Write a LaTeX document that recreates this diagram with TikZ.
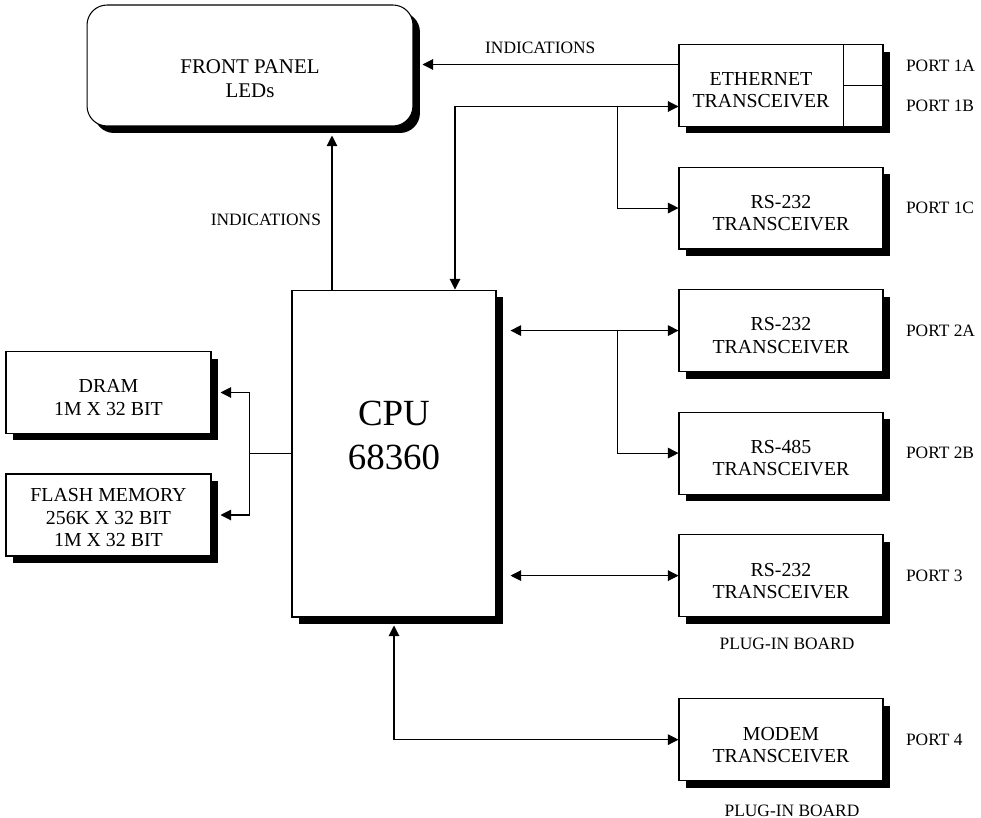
\documentclass[tikz,border=0pt]{standalone}
\usepackage{fontspec}
\setmainfont{Liberation Serif}
\usepackage{tikz}
\usetikzlibrary{arrows.meta, shadows, positioning, calc}
\newcommand{\unitfont}{\fontsize{11.3}{12.6}\selectfont}
\newcommand{\panelfont}{\fontsize{11.9}{13.5}\selectfont}
\newcommand{\tagfont}{\fontsize{9.9}{11}\selectfont}
\newcommand{\cpufont}{\fontsize{21}{25}\selectfont}
\newcommand{\unitstrut}[1]{\rule{0pt}{#1}}
\tikzset{
    unit/.style={
        rectangle,
        draw=black,
        fill=white,
        line width=0.6pt,
        minimum width=4.08cm,
        minimum height=1.64cm,
        align=center,
        font=\unitfont,
        drop shadow={shadow xshift=0.14cm, shadow yshift=-0.14cm, fill=black, opacity=1},
    },
    panel/.style={
        unit,
        rounded corners=0.4cm,
        minimum width=6.52cm,
        minimum height=2.42cm,
        font=\panelfont,
    },
    tag/.style={
        font=\tagfont,
        anchor=west,
        inner sep=0pt,
    },
}

\begin{document}
\begin{tikzpicture}[x=0.02cm, y=-0.02cm, node distance=0.79cm, >={Triangle[length=6pt,width=6pt]}, line width=0.6pt]
          \useasboundingbox (0,0) rectangle (981,818);

          % panel, cpu and memory
          \node [panel] (panel) at (250,65.5) {\unitstrut{22.6pt}FRONT PANEL\\LEDs};
          \node [unit, minimum height=6.54cm, font=\cpufont,
                 execute at end node={\rule[-20.4pt]{0pt}{20.4pt}}] (cpu) at (394,453.5) {CPU\\68360};
          \node [unit, minimum width=4.1cm] (dram) at (108.5,392.5) {\unitstrut{13.2pt}DRAM\\1M X 32 BIT};
          \node [unit, minimum width=4.1cm] (flash) at (108.5,515) {\unitstrut{10.5pt}FLASH MEMORY\\256K X 32 BIT\\1M X 32 BIT};

          % transceivers
          \node [unit] (eth) at (781,85.5) {};
          \node [font=\unitfont, align=center] (ethtxt) at ($(eth.center)+(-20,5)$) {ETHERNET\\TRANSCEIVER};
          \node [unit] (rs1c) [below=of eth] {\unitstrut{13.2pt}RS-232\\TRANSCEIVER};
          \node [unit] (rs2a) [below=of rs1c] {\unitstrut{13.2pt}RS-232\\TRANSCEIVER};
          \node [unit] (rs2b) [below=of rs2a] {\unitstrut{13.2pt}RS-485\\TRANSCEIVER};
          \node [unit] (rs3) [below=of rs2b] {\unitstrut{13.2pt}RS-232\\TRANSCEIVER};
          \node [unit] (modem) [below=1.62cm of rs3] {\unitstrut{13.2pt}MODEM\\TRANSCEIVER};
          \draw ($(eth.north east)+(-40,0)$) -- ($(eth.south east)+(-40,0)$);
          \draw ($(eth.east)+(-40,0)$) -- (eth.east);

          % ports
          \node [tag] (p1a) at ($(eth.east)+(22,-20)$) {PORT 1A};
          \node [tag] (p1b) at ($(eth.east)+(22,20)$) {PORT 1B};
          \node [tag, right=0.44cm of rs1c] (p1c) {PORT 1C};
          \node [tag, right=0.44cm of rs2a] (p2a) {PORT 2A};
          \node [tag, right=0.44cm of rs2b] (p2b) {PORT 2B};
          \node [tag, right=0.44cm of rs3] (p3) {PORT 3};
          \node [tag, right=0.44cm of modem] (p4) {PORT 4};
          \node [tag, below=0.4cm of rs3, xshift=0.12cm] (plug3) {PLUG-IN BOARD};
          \node [tag, below=0.46cm of modem, xshift=0.22cm] (plug4) {PLUG-IN BOARD};

          % indications
          \coordinate (ethA) at ($(eth.west)+(0,-21)$);
          \draw [->] (ethA) -- ($(panel.east |- ethA)+(9,0)$) node [tag, pos=0.54, above=5.7pt] {INDICATIONS};
          \coordinate (cpuL) at ($(cpu.north)+(-62,0)$);
          \draw [->] (cpuL) -- ($(cpuL |- panel.south)+(0,9)$) node [tag, pos=0.45, left=6pt] {INDICATIONS};

          % port buses
          \coordinate (ethB) at ($(eth.west)+(0,21)$);
          \coordinate (cpuR) at ($(cpu.north)+(61,0)$);
          \draw [<->] (ethB) -| (cpuR);
          \draw [->] ($(ethB)+(-61,0)$) |- (rs1c.west);
          \draw [<->] ($(cpu.east |- rs2a.west)+(14,0)$) -- (rs2a.west);
          \draw [->] ($(rs2a.west)+(-61,0)$) |- (rs2b.west);
          \draw [<->] ($(cpu.east |- rs3.west)+(14,0)$) -- (rs3.west);
          \draw [<->] ($(cpu.south)+(0,8)$) |- (modem.west);

          % memory bus
          \draw (cpu.west) -- ++(-42,0) coordinate (mem);
          \draw [->] (mem) |- ($(dram.east)+(9,0)$);
          \draw [->] (mem) |- ($(flash.east)+(9,0)$);
        \end{tikzpicture}
\end{document}
